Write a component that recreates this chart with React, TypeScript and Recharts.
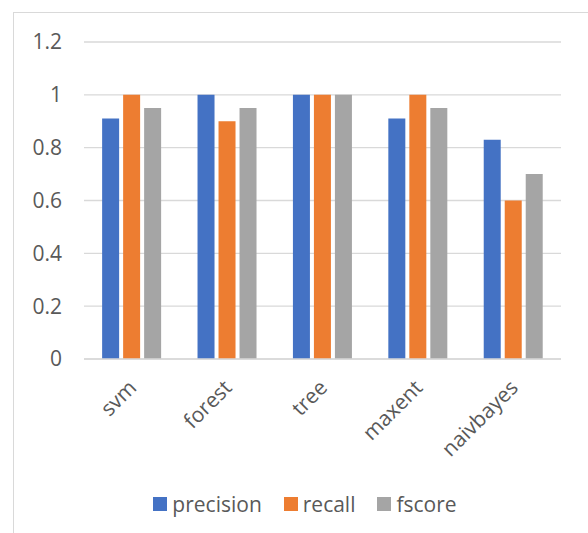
import React from "react";
import {
  BarChart,
  Bar,
  XAxis,
  YAxis,
  CartesianGrid,
  Legend,
} from "recharts";

const categories = ["svm", "forest", "tree", "maxent", "naivbayes"];
const precision = [0.91, 1, 1, 0.91, 0.83];
const recall = [1, 0.9, 1, 1, 0.6];
const fscore = [0.95, 0.95, 1, 0.95, 0.7];
const yTicks = [0, 0.2, 0.4, 0.6, 0.8, 1, 1.2];

const series = [
  { key: "precision", color: "#4472C4" },
  { key: "recall", color: "#ED7D31" },
  { key: "fscore", color: "#A5A5A5" },
];

const data = categories.map((name, i) => ({
  name,
  precision: precision[i],
  recall: recall[i],
  fscore: fscore[i],
}));

const FONT = "'Open Sans', sans-serif";
const TEXT = "#595959";

function AngledTick({ x, y, payload }: any) {
  return (
    <g transform={`translate(${x + 6},${y + 22})`}>
      <text
        textAnchor="end"
        transform="rotate(-45)"
        fill={TEXT}
        fontSize={21}
        fontFamily={FONT}
      >
        {payload.value}
      </text>
    </g>
  );
}

function LegendContent() {
  return (
    <div
      style={{
        display: "flex",
        justifyContent: "center",
        alignItems: "center",
        height: 30,
        fontFamily: FONT,
        fontSize: 21,
        color: TEXT,
      }}
    >
      {series.map((s, i) => (
        <div
          key={s.key}
          style={{
            display: "flex",
            alignItems: "center",
            marginLeft: i === 0 ? 0 : 22,
          }}
        >
          <span
            style={{
              width: 14,
              height: 14,
              background: s.color,
              marginRight: 5,
              display: "inline-block",
            }}
          />
          <span>{s.key}</span>
        </div>
      ))}
    </div>
  );
}

export default function App() {
  return (
    <div
      style={{
        position: "absolute",
        left: 0,
        top: 0,
        width: 588,
        height: 533,
        overflow: "hidden",
        background: "#fff",
      }}
    >
      <div
        style={{
          position: "absolute",
          left: 13,
          top: 12,
          width: 620,
          height: 560,
          border: "1px solid #d9d9d9",
        }}
      />
      <BarChart
        width={588}
        height={533}
        data={data}
        margin={{ top: 42, right: 27, left: 14, bottom: 14 }}
        barCategoryGap="19%"
        barGap={4}
      >
        <CartesianGrid vertical={false} stroke="#d9d9d9" strokeWidth={1.3} />
        <XAxis
          dataKey="name"
          height={130}
          axisLine={{ stroke: "#d9d9d9", strokeWidth: 1.3 }}
          tickLine={false}
          interval={0}
          tick={<AngledTick />}
        />
        <YAxis
          width={70}
          domain={[0, 1.2]}
          ticks={yTicks}
          axisLine={false}
          tickLine={false}
          tickMargin={16}
          tick={{ fill: TEXT, fontSize: 21, fontFamily: FONT }}
        />
        <Legend
          verticalAlign="bottom"
          content={<LegendContent />}
          wrapperStyle={{ left: 11, top: 489, width: 588, bottom: "auto" }}
        />
        {series.map((s) => (
          <Bar
            key={s.key}
            dataKey={s.key}
            fill={s.color}
            isAnimationActive={false}
          />
        ))}
      </BarChart>
    </div>
  );
}
